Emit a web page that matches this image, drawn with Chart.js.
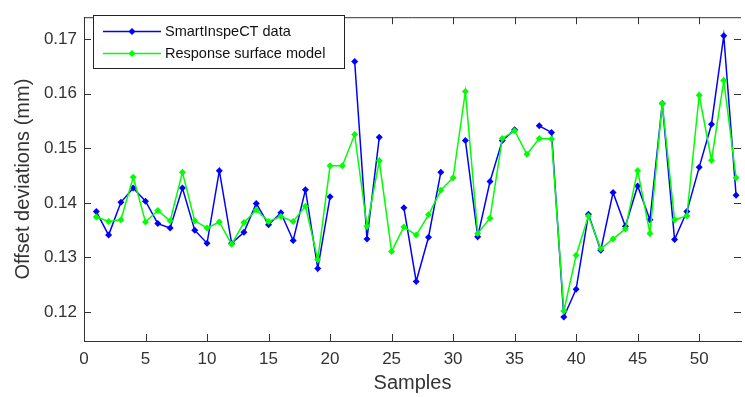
<!DOCTYPE html>
<html lang="en">
<head>
    <meta charset="UTF-8">
    <title>Offset deviations</title>
    <script src="https://cdn.jsdelivr.net/npm/chart.js"></script>
    <style>
        body { margin: 0; background: white; }
        .chart-wrapper { width: 745px; height: 397px; }
        canvas { width: 100% !important; height: 100% !important; }
    </style>
</head>
<body>
    <div class="chart-wrapper">
        <canvas id="offsetChart"></canvas>
    </div>

    <script>
        const samples = [1, 2, 3, 4, 5, 6, 7, 8, 9, 10, 11, 12, 13, 14, 15, 16, 17, 18, 19, 20,
            21, 22, 23, 24, 25, 26, 27, 28, 29, 30, 31, 32, 33, 34, 35, 36, 37, 38, 39, 40,
            41, 42, 43, 44, 45, 46, 47, 48, 49, 50, 51, 52, 53];

        // measured offsets, null where no measurement exists
        const smartInspectData = [0.1384, 0.1341, 0.1401, 0.1427, 0.1403, 0.1362, 0.1354, 0.1427, 0.1350, 0.1326,
            0.1459, 0.1326, 0.1346, 0.1399, 0.1360, 0.1382, 0.1331, 0.1424, 0.1280, 0.1411,
            null, 0.1659, 0.1334, 0.1520, null, 0.1391, 0.1256, 0.1337, 0.1456, null,
            0.1514, 0.1338, 0.1439, 0.1514, 0.1534, null, 0.1541, 0.1529, 0.1191, 0.1242,
            0.1379, 0.1313, 0.1419, 0.1357, 0.1431, 0.1369, 0.1582, 0.1333, 0.1384, 0.1465,
            0.1544, 0.1706, 0.1414];

        const responseSurface = [0.1374, 0.1366, 0.1369, 0.1447, 0.1365, 0.1386, 0.1367, 0.1456, 0.1367, 0.1354,
            0.1365, 0.1324, 0.1364, 0.1387, 0.1366, 0.1375, 0.1366, 0.1394, 0.1296, 0.1468,
            0.1468, 0.1525, 0.1357, 0.1477, 0.1311, 0.1356, 0.1341, 0.1378, 0.1423, 0.1446,
            0.1604, 0.1344, 0.1372, 0.1518, 0.1532, 0.1489, 0.1518, 0.1517, 0.1202, 0.1304,
            0.1376, 0.1316, 0.1334, 0.1352, 0.1459, 0.1344, 0.1582, 0.1369, 0.1376, 0.1597,
            0.1478, 0.1624, 0.1446];

        const xTicks = [0, 5, 10, 15, 20, 25, 30, 35, 40, 45, 50];
        const yTicks = [0.12, 0.13, 0.14, 0.15, 0.16, 0.17];

        const axisColor = '#333';
        const textFont = 'Liberation Sans, Arial, sans-serif';

        // matlab style box: inward ticks on all sides, top border, legend inside the axes
        const boxPlugin = {
            id: 'boxPlugin',
            afterDraw(chart) {
                const { ctx, chartArea: a, scales } = chart;
                ctx.save();
                ctx.strokeStyle = axisColor;
                ctx.lineWidth = 1;
                ctx.beginPath();
                ctx.moveTo(a.left, a.top + 0.5);
                ctx.lineTo(a.right, a.top + 0.5);
                xTicks.forEach(v => {
                    const px = Math.round(scales.x.getPixelForValue(v)) + 0.5;
                    ctx.moveTo(px, a.bottom);
                    ctx.lineTo(px, a.bottom - 7);
                    ctx.moveTo(px, a.top);
                    ctx.lineTo(px, a.top + 7);
                });
                yTicks.forEach(v => {
                    const py = Math.round(scales.y.getPixelForValue(v)) + 0.5;
                    ctx.moveTo(a.left, py);
                    ctx.lineTo(a.left + 7, py);
                    ctx.moveTo(a.right, py);
                    ctx.lineTo(a.right - 7, py);
                });
                ctx.stroke();

                // legend
                const lx = 93, ly = 15, lw = 251, lh = 53;
                ctx.fillStyle = 'white';
                ctx.fillRect(lx, ly, lw, lh);
                ctx.strokeStyle = '#222';
                ctx.strokeRect(lx + 0.5, ly + 0.5, lw, lh);
                const legendOrder = [1, 0];
                legendOrder.forEach((di, row) => {
                    const ds = chart.data.datasets[di];
                    const y = ly + 16.5 + row * 22;
                    ctx.strokeStyle = ds.borderColor;
                    ctx.lineWidth = 1.5;
                    ctx.beginPath();
                    ctx.moveTo(103, y);
                    ctx.lineTo(161, y);
                    ctx.stroke();
                    ctx.fillStyle = ds.borderColor;
                    ctx.beginPath();
                    ctx.moveTo(132, y - 3.5);
                    ctx.lineTo(135.5, y);
                    ctx.lineTo(132, y + 3.5);
                    ctx.lineTo(128.5, y);
                    ctx.closePath();
                    ctx.fill();
                    ctx.fillStyle = '#111';
                    ctx.font = '14.5px ' + textFont;
                    ctx.textBaseline = 'middle';
                    ctx.fillText(ds.label, 165, y);
                });
                ctx.restore();
            }
        };

        function toPoints(values) {
            return samples.map((s, i) => ({ x: s, y: values[i] }));
        }

        const ctx = document.getElementById('offsetChart').getContext('2d');
        new Chart(ctx, {
            type: 'line',
            data: {
                datasets: [{
                    label: 'Response surface model',
                    data: toPoints(responseSurface),
                    borderColor: '#00ff00',
                    backgroundColor: '#00ff00',
                    borderWidth: 1.5,
                    pointStyle: 'rectRot',
                    pointRadius: 3.5,
                    pointBorderWidth: 0,
                    tension: 0,
                    order: 1
                }, {
                    label: 'SmartInspeCT data',
                    data: toPoints(smartInspectData),
                    borderColor: '#0000ff',
                    backgroundColor: '#0000ff',
                    borderWidth: 1.5,
                    pointStyle: 'rectRot',
                    pointRadius: 3.5,
                    pointBorderWidth: 0,
                    tension: 0,
                    spanGaps: false,
                    order: 2
                }]
            },
            options: {
                responsive: true,
                maintainAspectRatio: false,
                animation: false,
                layout: { padding: { top: 7, right: 0, left: 0, bottom: 0 } },
                plugins: {
                    legend: { display: false },
                    tooltip: { enabled: false }
                },
                scales: {
                    x: {
                        type: 'linear',
                        min: 0,
                        max: 53.4,
                        afterBuildTicks: scale => { scale.ticks = xTicks.map(v => ({ value: v })); },
                        afterFit: scale => { scale.height = 56; },
                        grid: { display: false, drawTicks: false },
                        border: { display: true, color: axisColor, width: 1 },
                        ticks: {
                            color: axisColor,
                            font: { family: textFont, size: 17 },
                            padding: 8,
                            maxRotation: 0,
                            autoSkip: false
                        },
                        title: {
                            display: true,
                            text: 'Samples',
                            color: axisColor,
                            font: { family: textFont, size: 20 },
                            padding: { top: 0, bottom: 2 }
                        }
                    },
                    y: {
                        min: 0.1147,
                        max: 0.174,
                        afterBuildTicks: scale => { scale.ticks = yTicks.map(v => ({ value: v })); },
                        afterFit: scale => { scale.width = 84; },
                        grid: { display: false, drawTicks: false },
                        border: { display: true, color: axisColor, width: 1 },
                        ticks: {
                            color: axisColor,
                            font: { family: textFont, size: 17 },
                            padding: 7,
                            callback: v => v.toFixed(2)
                        },
                        title: {
                            display: true,
                            text: 'Offset deviations (mm)',
                            color: axisColor,
                            font: { family: textFont, size: 20 },
                            padding: { top: 11, bottom: 0 }
                        }
                    }
                }
            },
            plugins: [boxPlugin]
        });
    </script>
</body>
</html>
